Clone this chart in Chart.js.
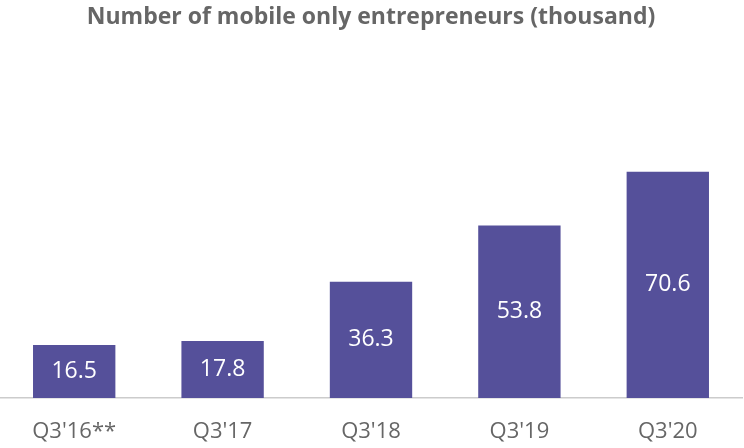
<!DOCTYPE html>
<html>
<head>
<meta charset="utf-8">
<script src="https://cdn.jsdelivr.net/npm/chart.js@4"></script>
<style>
    html, body { margin: 0; padding: 0; background: #fff; }
    #wrap { width: 744px; height: 448px; position: relative; }
</style>
</head>
<body>
<div id="wrap"><canvas id="chart"></canvas></div>
<script>
// Chart data
const categories = ["Q3'16**", "Q3'17", "Q3'18", "Q3'19", "Q3'20"];
const entrepreneurs = [16.5, 17.8, 36.3, 53.8, 70.6];

// Value labels inside bars
const barLabels = {
    id: "barLabels",
    afterDatasetsDraw(chart) {
        const ctx = chart.ctx;
        const meta = chart.getDatasetMeta(0);
        ctx.save();
        ctx.fillStyle = "#ffffff";
        ctx.font = "23px 'Open Sans'";
        ctx.textAlign = "center";
        ctx.textBaseline = "middle";
        meta.data.forEach((bar, i) => {
            const mid = (bar.y + bar.base) / 2;
            ctx.fillText(entrepreneurs[i].toFixed(1), bar.x, mid);
        });
        ctx.restore();
    }
};

const ctx = document.getElementById("chart").getContext("2d");

new Chart(ctx, {
    type: "bar",
    data: {
        labels: categories,
        datasets: [{
            data: entrepreneurs,
            backgroundColor: "#55509a",
            categoryPercentage: 1,
            barPercentage: 0.555
        }]
    },
    options: {
        responsive: true,
        maintainAspectRatio: false,
        animation: false,
        layout: { padding: { left: 0, right: 2, top: 0, bottom: 0 } },
        plugins: {
            legend: { display: false },
            tooltip: { enabled: false },
            title: {
                display: true,
                text: "Number of mobile only entrepreneurs (thousand)",
                color: "#666666",
                font: { family: "'Open Sans'", size: 23, weight: "bold" },
                padding: { top: 4, bottom: 110 }
            }
        },
        scales: {
            x: {
                grid: { display: false, drawTicks: false },
                border: { color: "#cccccc", width: 1.5 },
                ticks: {
                    color: "#666666",
                    padding: 21,
                    font: { family: "'Open Sans'", size: 22 }
                },
                afterFit(scale) {
                    scale.height = 50;
                }
            },
            y: {
                display: false,
                min: 0,
                max: 80
            }
        }
    },
    plugins: [barLabels]
});
</script>
</body>
</html>
